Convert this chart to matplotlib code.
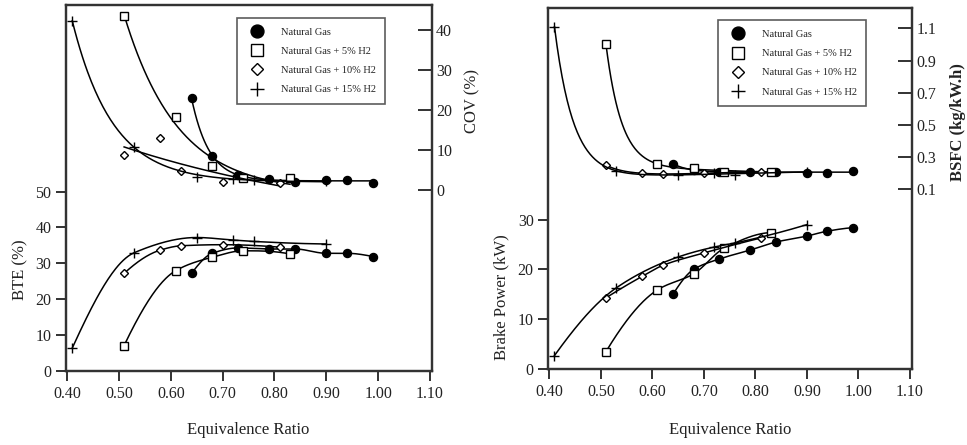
import numpy as np
import matplotlib.pyplot as plt
from matplotlib.lines import Line2D

# Equivalence ratio of each series
x_ng = [0.64, 0.68, 0.73, 0.79, 0.84, 0.90, 0.94, 0.99]
x_h5 = [0.51, 0.61, 0.68, 0.74, 0.83]
x_h10 = [0.51, 0.58, 0.62, 0.70, 0.81]
x_h15 = [0.41, 0.53, 0.65, 0.72, 0.76, 0.90]

# COV (%)
cov_ng = [23.0, 8.6, 3.8, 2.8, 2.1, 2.5, 2.5, 1.8]
cov_h5 = [43.5, 18.3, 6.1, 3.0, 2.9]
cov_h10 = [8.8, 12.9, 4.8, 2.0, 1.7]
cov_h15 = [42.3, 10.8, 3.3, 2.8, 2.5, 2.3]

# BTE (%)
bte_ng = [27.2, 32.8, 34.3, 34.0, 34.0, 32.8, 32.8, 31.9]
bte_h5 = [7.1, 28.0, 31.7, 33.5, 32.6]
bte_h10 = [27.2, 33.7, 34.9, 35.2, 34.5]
bte_h15 = [6.4, 33.0, 37.2, 36.5, 36.1, 35.4]

# Brake power (kW)
bp_ng = [15.0, 20.0, 22.1, 23.9, 25.5, 26.7, 27.7, 28.4]
bp_h5 = [3.5, 15.9, 19.1, 24.3, 27.4]
bp_h10 = [14.3, 18.6, 20.8, 23.3, 26.3]
bp_h15 = [2.7, 16.3, 22.5, 24.5, 25.3, 29.0]

# BSFC (kg/kW.h)
bsfc_ng = [0.26, 0.22, 0.21, 0.21, 0.21, 0.20, 0.20, 0.215]
bsfc_h5 = [1.00, 0.257, 0.23, 0.21, 0.21]
bsfc_h10 = [0.25, 0.20, 0.195, 0.20, 0.21]
bsfc_h15 = [1.11, 0.215, 0.19, 0.20, 0.19, 0.21]

labels = ['Natural Gas', 'Natural Gas + 5% H2', 'Natural Gas + 10% H2', 'Natural Gas + 15% H2']
styles = [dict(marker='o', mfc='black', ms=5.8),
          dict(marker='s', mfc='white', ms=5.8),
          dict(marker='D', mfc='white', ms=3.8),
          dict(marker='+', mfc='white', ms=6.5, mew=1.0)]

plt.rcParams['font.family'] = 'Liberation Serif'
plt.rcParams['text.color'] = '#222222'


def pchip(x, y, n=200):
    # smooth monotone curve through the points
    x = np.asarray(x, float)
    y = np.asarray(y, float)
    h = np.diff(x)
    d = np.diff(y) / h
    m = np.zeros_like(y)
    for i in range(1, len(x) - 1):
        if d[i - 1] * d[i] > 0:
            w1 = 2 * h[i] + h[i - 1]
            w2 = h[i] + 2 * h[i - 1]
            m[i] = (w1 + w2) / (w1 / d[i - 1] + w2 / d[i])

    def end(h0, h1, d0, d1):
        s = ((2 * h0 + h1) * d0 - h0 * d1) / (h0 + h1)
        if np.sign(s) != np.sign(d0):
            s = 0.0
        elif np.sign(d0) != np.sign(d1) and abs(s) > abs(3 * d0):
            s = 3 * d0
        return s

    m[0] = end(h[0], h[1], d[0], d[1])
    m[-1] = end(h[-1], h[-2], d[-1], d[-2])
    xs = np.linspace(x[0], x[-1], n)
    i = np.clip(np.searchsorted(x, xs) - 1, 0, len(h) - 1)
    t = (xs - x[i]) / h[i]
    ys = ((2 * t**3 - 3 * t**2 + 1) * y[i] + (t**3 - 2 * t**2 + t) * h[i] * m[i]
          + (-2 * t**3 + 3 * t**2) * y[i + 1] + (t**3 - t**2) * h[i] * m[i + 1])
    return xs, ys


def expfit(x, y, n=200, linear=False):
    # least squares trend y = a (+ c*x) + b*exp(-k*(x-x0))
    x = np.asarray(x, float)
    y = np.asarray(y, float)
    best = None
    for k in np.linspace(2, 150, 600):
        cols = [np.ones_like(x), np.exp(-k * (x - x[0]))]
        if linear:
            cols.append(x)
        A = np.column_stack(cols)
        coef = np.linalg.lstsq(A, y, rcond=None)[0]
        r = np.sum((A @ coef - y) ** 2)
        if best is None or r < best[0]:
            best = (r, k, coef)
    _, k, coef = best
    xs = np.linspace(x[0], x[-1], n)
    ys = coef[0] + coef[1] * np.exp(-k * (xs - x[0]))
    if linear:
        ys = ys + coef[2] * xs
    return xs, ys


def expfit_lin(x, y):
    return expfit(x, y, linear=True)


def draw(ax, xs_list, ys_list, curve):
    for xv, yv, st in zip(xs_list, ys_list, styles):
        cx, cy = curve(xv, yv)
        ax.plot(cx, cy, color='black', lw=1.1)
        ax.plot(xv, yv, ls='none', color='black', mec='black', **st)


def style_axes(ax, axr):
    for a in (ax, axr):
        for s in a.spines.values():
            s.set_linewidth(1.6)
            s.set_color('#333333')
    ax.set_xlim(0.398, 1.104)
    ax.set_xticks(np.arange(0.4, 1.11, 0.1))
    ax.set_xticklabels(['%.2f' % v for v in np.arange(0.4, 1.11, 0.1)])
    ax.tick_params(axis='both', direction='out', length=7, width=1.3,
                   labelsize=11.5, colors='#222222')
    axr.tick_params(axis='y', direction='in', length=10, width=1.3,
                    labelsize=11.5, colors='#222222', pad=3)


def add_legend(ax, anchor):
    handles = [Line2D([], [], ls='none', color='black', mec='black',
                      **dict(st, ms=st['ms'] * 1.6)) for st in styles]
    leg = ax.legend(handles, labels, loc='upper left', bbox_to_anchor=anchor,
                    fontsize=7.5, frameon=True, fancybox=False, borderaxespad=0,
                    labelspacing=0.95, handletextpad=1.3, borderpad=0.9,
                    handlelength=2.0)
    leg.get_frame().set_edgecolor('#333333')
    leg.get_frame().set_linewidth(1.2)
    leg.set_zorder(5)


fig = plt.figure(figsize=(9.67, 4.45), dpi=100)

# ---- left panel: BTE (left axis) and COV (right axis) ----
ax1 = fig.add_axes([0.0683, 0.1663, 0.3785, 0.8225])
ax1r = ax1.twinx()
draw(ax1, [x_ng, x_h5, x_h10, x_h15], [bte_ng, bte_h5, bte_h10, bte_h15], pchip)
draw(ax1r, [x_ng, x_h5, x_h10, x_h15], [cov_ng, cov_h5, cov_h10, cov_h15], expfit)
ax1.set_ylim(0, 102)
ax1.set_yticks([0, 10, 20, 30, 40, 50])
ax1r.set_ylim(-45.3, 46.3)
ax1r.set_yticks([0, 10, 20, 30, 40])
style_axes(ax1, ax1r)
add_legend(ax1r, (0.467, 0.9645))

# ---- right panel: Brake power (left axis) and BSFC (right axis) ----
ax2 = fig.add_axes([0.567, 0.1708, 0.3761, 0.811])
ax2r = ax2.twinx()
draw(ax2, [x_ng, x_h5, x_h10, x_h15], [bp_ng, bp_h5, bp_h10, bp_h15], pchip)
draw(ax2r, [x_ng, x_h5, x_h10, x_h15], [bsfc_ng, bsfc_h5, bsfc_h10, bsfc_h15], expfit_lin)
ax2.set_ylim(0, 72.5)
ax2.set_yticks([0, 10, 20, 30])
ax2r.set_ylim(-1.016, 1.226)
ax2r.set_yticks([0.1, 0.3, 0.5, 0.7, 0.9, 1.1])
ax2r.set_yticklabels(['0.1', '0.3', '0.5', '0.7', '0.9', '1.1'])
style_axes(ax2, ax2r)
add_legend(ax2r, (0.467, 0.966))

# axis titles placed next to their own scales
fig.text(0.0207, 0.393, 'BTE (%)', rotation=90, ha='center', va='center', fontsize=12)
fig.text(0.489, 0.773, 'COV (%)', rotation=90, ha='center', va='center', fontsize=12)
fig.text(0.257, 0.034, 'Equivalence Ratio', ha='center', va='center', fontsize=12)
fig.text(0.519, 0.333, 'Brake Power (kW)', rotation=90, ha='center', va='center', fontsize=12)
fig.text(0.9907, 0.726, 'BSFC (kg/kW.h)', rotation=90, ha='center', va='center',
         fontsize=12, fontweight='bold')
fig.text(0.755, 0.034, 'Equivalence Ratio', ha='center', va='center', fontsize=12)

fig.savefig('out.png', dpi=100)
